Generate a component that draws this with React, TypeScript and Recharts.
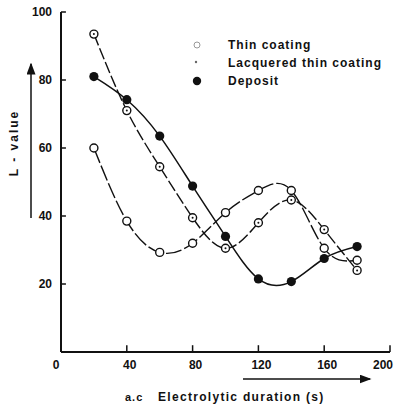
import { LineChart, Line, XAxis, YAxis, ReferenceLine } from "recharts";

const durations = [20, 40, 60, 80, 100, 120, 140, 160, 180];
const thinCoating = [60, 38.5, 29.3, 32, 41, 47.5, 47.5, 30.5, 27];
const lacqueredCoating = [93.5, 71, 54.5, 39.5, 30.5, 38, 44.7, 36, 24];
const deposit = [81, 74.2, 63.5, 48.8, 34, 21.5, 20.7, 27.5, 31];

const xTicks = [0, 40, 80, 120, 160, 200];
const yTicks = [20, 40, 60, 80, 100];

const data = durations.map((t, i) => ({
  t,
  thin: thinCoating[i],
  lacq: lacqueredCoating[i],
  dep: deposit[i],
}));

const INK = "#111";
const FONT = "'Liberation Sans', Arial, sans-serif";

function OpenDot(props: any) {
  const { cx, cy } = props;
  if (cx == null || cy == null) return null;
  return <circle cx={cx} cy={cy} r={4} fill="#fff" stroke={INK} strokeWidth={1.4} />;
}

function DottedDot(props: any) {
  const { cx, cy } = props;
  if (cx == null || cy == null) return null;
  return (
    <g>
      <circle cx={cx} cy={cy} r={4} fill="#fff" stroke={INK} strokeWidth={1.4} />
      <circle cx={cx} cy={cy} r={1} fill={INK} />
    </g>
  );
}

function FilledDot(props: any) {
  const { cx, cy } = props;
  if (cx == null || cy == null) return null;
  return <circle cx={cx} cy={cy} r={4.6} fill={INK} />;
}

function XTick(props: any) {
  const { x, y, payload } = props;
  const dx = payload.value === 0 ? -5 : payload.value === 200 ? -1 : 3;
  return (
    <text x={x + dx} y={y + 9} textAnchor="middle" fontSize={12} fontWeight={600} fill={INK} fontFamily={FONT}>
      {payload.value}
    </text>
  );
}

function YTick(props: any) {
  const { x, y, payload } = props;
  return (
    <text x={x - 1} y={y + 4} textAnchor="end" fontSize={12} fontWeight={600} fill={INK} fontFamily={FONT}>
      {payload.value}
    </text>
  );
}

export default function App() {
  return (
    <div style={{ position: "absolute", left: 0, top: 0, width: 396, height: 404, background: "#fff" }}>
      <LineChart
        width={396}
        height={404}
        data={data}
        margin={{ top: 12, right: 6, bottom: 22, left: 11 }}
      >
        <XAxis
          dataKey="t"
          type="number"
          domain={[0, 200]}
          ticks={xTicks}
          tickLine={false}
          axisLine={{ stroke: INK, strokeWidth: 2 }}
          tick={<XTick />}
          height={30}
        />
        <YAxis
          type="number"
          domain={[0, 100]}
          ticks={yTicks}
          tickLine={false}
          axisLine={{ stroke: INK, strokeWidth: 2 }}
          tick={<YTick />}
          width={50}
        />
        {xTicks.slice(1).map((v) => (
          <ReferenceLine
            key={"xt" + v}
            segment={[{ x: v, y: 0 }, { x: v, y: 2 }]}
            stroke={INK}
            strokeWidth={1.5}
          />
        ))}
        {yTicks.map((v) => (
          <ReferenceLine
            key={"yt" + v}
            segment={[{ x: 0, y: v }, { x: 3, y: v }]}
            stroke={INK}
            strokeWidth={1.5}
          />
        ))}
        <Line
          dataKey="thin"
          type="natural"
          stroke={INK}
          strokeWidth={1.4}
          strokeDasharray="16 3"
          dot={<OpenDot />}
          isAnimationActive={false}
        />
        <Line
          dataKey="lacq"
          type="natural"
          stroke={INK}
          strokeWidth={1.4}
          strokeDasharray="12 3"
          dot={<DottedDot />}
          isAnimationActive={false}
        />
        <Line
          dataKey="dep"
          type="natural"
          stroke={INK}
          strokeWidth={1.5}
          dot={<FilledDot />}
          isAnimationActive={false}
        />
      </LineChart>
      <svg
        width={396}
        height={404}
        style={{ position: "absolute", left: 0, top: 0, pointerEvents: "none" }}
        fontFamily={FONT}
      >
        <defs>
          <marker id="ah" markerWidth="8" markerHeight="6" refX="7" refY="3" orient="auto">
            <path d="M0,0 L8,3 L0,6 Z" fill={INK} />
          </marker>
        </defs>
        {/* legend */}
        <circle cx={197} cy={45} r={3} fill="none" stroke="#999" strokeWidth={1} />
        <text x={228} y={49} fontSize={12} fontWeight={600} letterSpacing={1} fill={INK}>Thin coating</text>
        <circle cx={196} cy={62} r={1.2} fill="#666" />
        <text x={228} y={67} fontSize={12} fontWeight={600} letterSpacing={1} fill={INK}>Lacquered thin coating</text>
        <circle cx={197} cy={81} r={4.2} fill={INK} />
        <text x={228} y={85} fontSize={12} fontWeight={600} letterSpacing={1} fill={INK}>Deposit</text>
        {/* y title and arrow */}
        <text
          x={18}
          y={143}
          fontSize={12}
          fontWeight={600}
          letterSpacing={2}
          fill={INK}
          textAnchor="middle"
          transform="rotate(-90 18 143)"
        >
          L - value
        </text>
        <line x1={31} y1={218} x2={31} y2={64} stroke={INK} strokeWidth={1.5} markerEnd="url(#ah)" />
        {/* x title and arrow */}
        <line x1={243} y1={379} x2={370} y2={379} stroke={INK} strokeWidth={1.5} markerEnd="url(#ah)" />
        <text x={125} y={401} fontSize={11} fontWeight={600} letterSpacing={1} fill={INK}>a.c</text>
        <text x={158} y={401} fontSize={12} fontWeight={600} letterSpacing={1.3} fill={INK}>Electrolytic duration (s)</text>
      </svg>
    </div>
  );
}
